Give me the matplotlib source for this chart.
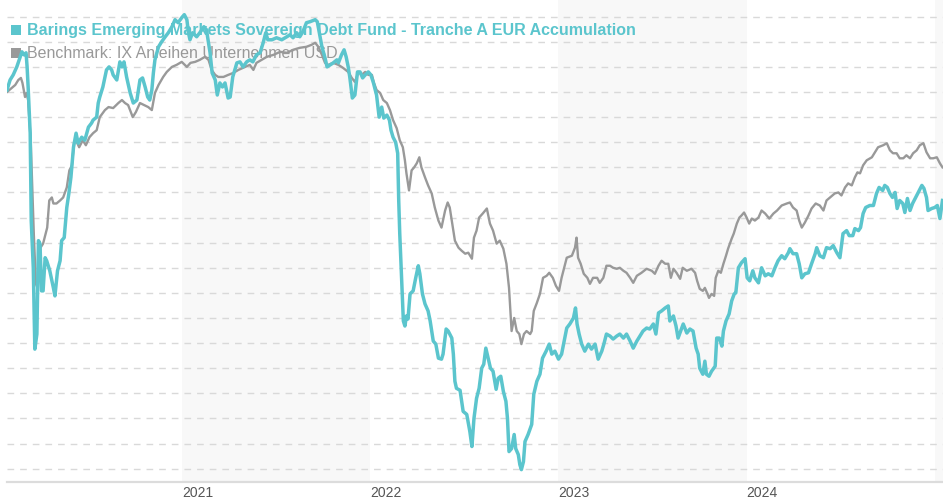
"""
Fund vs. benchmark cumulative performance (%), 2020-01 to 2025-01.
"""
import matplotlib
matplotlib.use('Agg')
import matplotlib.pyplot as plt
from matplotlib.patches import Rectangle
import numpy as np
import pandas as pd

START = pd.Timestamp('2020-01-27')

fund_name = 'Barings Emerging Markets Sovereign Debt Fund - Tranche A EUR Accumulation'
bench_name = 'Benchmark: IX Anleihen Unternehmen USD'
year_labels = ['2021', '2022', '2023', '2024']
shaded_years = [2021, 2023, 2025]

# days since START, cumulative performance in %
fund_days = [
	0, 6, 12, 19, 25, 29, 33, 37, 39, 41, 45, 47, 51, 54, 58, 61, 64, 67, 70, 74,
	77, 83, 90, 93, 98, 103, 106, 111, 116, 120, 124, 129, 134, 138, 145, 151, 158, 164, 167, 174,
	177, 180, 186, 193, 198, 203, 206, 213, 219, 223, 227, 232, 239, 245, 252, 258, 263, 268, 273, 277,
	281, 284, 287, 294, 300, 307, 313, 320, 326, 332, 339, 344, 349, 352, 355, 360, 368, 374, 382, 387,
	394, 398, 404, 408, 413, 418, 423, 429, 433, 438, 446, 452, 458, 465, 471, 477, 484, 491, 497, 502,
	506, 514, 523, 533, 543, 549, 555, 562, 568, 574, 581, 588, 598, 602, 606, 611, 617, 621, 627, 633,
	640, 643, 649, 654, 658, 662, 665, 670, 675, 680, 685, 690, 695, 701, 706, 711, 717, 722, 727, 731,
	737, 742, 745, 749, 754, 758, 760, 762, 766, 769, 772, 775, 778, 782, 788, 793, 798, 801, 806, 811,
	817, 821, 827, 832, 837, 843, 846, 852, 856, 863, 866, 869, 872, 879, 885, 892, 898, 902, 906, 911,
	916, 921, 925, 929, 934, 938, 943, 949, 953, 958, 963, 968, 971, 974, 979, 984, 987, 992, 995, 998,
	1002, 1005, 1011, 1018, 1022, 1028, 1034, 1039, 1046, 1052, 1057, 1063, 1070, 1076, 1081, 1086, 1092, 1099, 1103, 1106,
	1110, 1115, 1121, 1128, 1134, 1141, 1147, 1154, 1158, 1163, 1170, 1176, 1183, 1189, 1196, 1202, 1209, 1215, 1222, 1228,
	1234, 1241, 1247, 1254, 1259, 1264, 1270, 1277, 1283, 1286, 1293, 1298, 1302, 1307, 1312, 1319, 1325, 1331, 1337, 1341,
	1344, 1350, 1354, 1357, 1362, 1367, 1374, 1377, 1382, 1387, 1390, 1395, 1401, 1406, 1411, 1414, 1419, 1425, 1432, 1436,
	1441, 1447, 1451, 1458, 1464, 1471, 1477, 1484, 1490, 1496, 1503, 1509, 1516, 1519, 1525, 1532, 1537, 1542, 1548, 1555,
	1561, 1568, 1571, 1577, 1584, 1590, 1597, 1603, 1610, 1616, 1622, 1629, 1634, 1641, 1645, 1652, 1656, 1661, 1666, 1674,
	1681, 1687, 1692, 1699, 1703, 1708, 1713, 1718, 1723, 1727, 1732, 1738, 1742, 1747, 1752, 1757, 1762, 1768, 1775, 1779,
	1784, 1787, 1794, 1800, 1805, 1810, 1813, 1815,
]
fund_perf = [
	0.2, 1.2, 1.7, 2.5, 3.4, 4.0, 3.7, 3.9, 2.5, 0.5, -4.1, -12.8, -17.5, -25.6, -24.1, -14.8, -15.1, -19.8, -19.8, -16.5,
	-16.8, -17.8, -19.5, -20.3, -17.8, -16.8, -14.8, -14.5, -11.5, -10.1, -8.5, -5.5, -4.1, -5.1, -4.5, -4.8, -3.5, -3.1, -2.8, -2.5,
	-1.1, -0.5, 0.5, 2.2, 2.5, 2.2, 1.7, 1.2, 3.0, 2.5, 3.0, 1.5, -0.1, -1.1, -0.8, 1.2, 1.4, 0.5, -0.5, -0.8,
	0.2, 1.9, 3.2, 4.5, 5.0, 5.5, 5.9, 6.5, 7.2, 6.9, 7.4, 7.7, 7.2, 5.9, 5.2, 5.9, 5.5, 5.9, 6.5, 6.2,
	3.9, 1.9, 1.2, -0.3, 0.9, 0.5, 0.9, -0.6, -0.5, 1.5, 2.9, 3.0, 2.5, 3.0, 3.2, 3.0, 3.7, 3.9, 4.9, 5.9,
	5.2, 5.2, 5.4, 5.2, 5.5, 5.7, 5.4, 5.9, 5.5, 6.0, 6.9, 7.0, 7.2, 7.0, 5.9, 4.5, 3.4, 2.5, 2.7, 2.9,
	3.2, 2.9, 3.7, 4.2, 3.5, 2.5, 1.5, -0.6, -0.3, 2.0, 2.0, 1.4, 1.7, 2.0, 1.7, 0.9, -0.3, -2.5, -1.5, -2.6,
	-2.3, -2.8, -3.8, -4.5, -5.0, -6.1, -10.8, -14.1, -19.1, -22.8, -23.3, -22.3, -22.6, -20.1, -19.8, -18.5, -17.3, -18.1, -20.1, -21.1,
	-21.8, -22.8, -24.8, -25.1, -26.5, -26.6, -26.1, -23.6, -23.8, -24.5, -26.1, -28.8, -29.5, -29.7, -31.8, -32.1, -33.8, -35.3, -32.5, -30.5,
	-29.5, -27.5, -27.1, -25.5, -26.6, -27.5, -27.8, -29.6, -28.5, -28.3, -29.8, -30.8, -32.5, -35.8, -35.5, -34.1, -35.5, -36.1, -37.1, -37.6,
	-36.8, -34.8, -34.1, -33.1, -30.1, -28.8, -28.1, -26.5, -25.8, -25.1, -26.1, -25.8, -26.6, -26.1, -24.8, -23.5, -23.1, -22.5, -21.5, -23.1,
	-24.1, -25.1, -25.8, -25.1, -25.6, -25.1, -26.6, -25.8, -25.1, -24.1, -24.3, -24.6, -24.3, -24.1, -24.5, -24.1, -24.8, -25.5, -24.8, -24.3,
	-23.8, -23.5, -23.6, -23.1, -24.1, -22.0, -21.8, -21.5, -21.3, -22.8, -22.3, -23.3, -24.5, -23.8, -23.1, -24.0, -23.6, -23.8, -25.5, -26.1,
	-27.5, -28.1, -26.8, -28.1, -28.3, -27.8, -27.3, -24.5, -24.5, -25.3, -23.8, -22.8, -22.1, -20.8, -20.1, -20.0, -17.5, -17.0, -16.6, -18.5,
	-18.8, -17.8, -18.5, -19.0, -17.5, -18.3, -18.1, -18.3, -17.5, -16.8, -16.3, -16.6, -16.0, -15.6, -16.1, -16.1, -17.1, -18.5, -18.1, -18.0,
	-17.1, -16.1, -15.5, -16.3, -16.5, -15.5, -15.6, -15.3, -16.0, -16.5, -14.1, -13.8, -14.3, -14.3, -13.6, -13.8, -13.5, -12.1, -11.5, -11.3,
	-11.3, -10.1, -9.5, -9.8, -9.3, -9.5, -10.1, -10.5, -10.0, -11.6, -10.8, -11.1, -12.0, -10.6, -11.8, -11.1, -10.6, -10.0, -9.3, -9.6,
	-10.5, -11.8, -11.6, -11.5, -11.3, -12.6, -11.5, -10.8,
]

bench_days = [
	0, 9, 16, 22, 27, 30, 35, 38, 41, 46, 49, 52, 56, 59, 62, 65, 70, 75, 78, 82,
	87, 90, 96, 103, 109, 116, 121, 126, 130, 134, 140, 147, 153, 160, 167, 174, 180, 190, 197, 206,
	216, 223, 229, 235, 244, 250, 258, 266, 274, 281, 287, 294, 303, 310, 320, 329, 339, 349, 356, 365,
	374, 384, 391, 397, 404, 410, 420, 429, 439, 449, 462, 471, 478, 484, 494, 504, 517, 530, 543, 555,
	568, 581, 591, 598, 604, 611, 617, 623, 633, 643, 652, 662, 669, 675, 682, 688, 695, 701, 708, 712,
	717, 724, 730, 737, 743, 749, 756, 762, 768, 772, 775, 780, 785, 790, 795, 800, 804, 811, 817, 824,
	830, 837, 843, 850, 855, 859, 865, 869, 876, 882, 889, 895, 902, 906, 911, 916, 923, 931, 937, 943,
	950, 956, 963, 969, 974, 979, 984, 989, 994, 998, 1003, 1008, 1015, 1018, 1022, 1028, 1034, 1040, 1047, 1052,
	1059, 1065, 1071, 1076, 1081, 1086, 1096, 1102, 1105, 1108, 1113, 1119, 1126, 1131, 1137, 1145, 1150, 1157, 1163, 1170,
	1176, 1183, 1189, 1196, 1202, 1209, 1215, 1222, 1231, 1241, 1251, 1257, 1264, 1270, 1277, 1283, 1288, 1293, 1299, 1306,
	1311, 1319, 1328, 1335, 1339, 1344, 1350, 1354, 1359, 1362, 1367, 1372, 1375, 1380, 1385, 1390, 1395, 1399, 1406, 1410,
	1416, 1421, 1425, 1430, 1435, 1440, 1445, 1451, 1458, 1464, 1471, 1479, 1487, 1494, 1503, 1513, 1519, 1525, 1532, 1537,
	1542, 1548, 1555, 1561, 1569, 1577, 1584, 1590, 1597, 1606, 1613, 1619, 1626, 1632, 1639, 1645, 1650, 1655, 1661, 1668,
	1678, 1684, 1690, 1700, 1707, 1713, 1719, 1726, 1732, 1739, 1745, 1752, 1758, 1765, 1771, 1778, 1784, 1791, 1797, 1804,
	1810, 1815,
]
bench_perf = [
	0.0, 0.4, 0.7, 1.2, 1.4, 0.9, -0.5, -0.1, -0.8, -4.8, -9.5, -14.1, -19.1, -19.5, -18.1, -15.5, -15.1, -14.1, -13.5, -10.8,
	-10.5, -11.1, -11.1, -10.8, -10.5, -9.5, -7.8, -7.3, -5.1, -4.8, -5.5, -4.8, -5.3, -4.5, -4.1, -3.8, -2.5, -1.8, -1.5, -1.6,
	-1.1, -0.8, -1.1, -1.3, -2.5, -2.0, -1.1, -1.3, -1.5, -1.8, -0.1, 0.7, 1.5, 2.0, 2.5, 2.7, 3.0, 2.5, 2.9, 3.0,
	3.2, 3.5, 3.2, 2.2, 1.7, 1.5, 1.5, 1.7, 1.9, 2.2, 2.5, 2.7, 2.2, 2.9, 3.2, 3.5, 3.7, 4.0, 3.9, 4.2,
	4.4, 4.5, 4.7, 4.9, 4.5, 3.7, 2.9, 2.7, 2.9, 2.7, 2.4, 2.0, 1.4, 1.0, 2.0, 1.7, 2.0, 1.7, 1.7, 0.9,
	0.2, -0.1, -0.8, -1.1, -1.8, -2.8, -3.6, -4.8, -5.5, -6.8, -8.1, -9.8, -7.8, -7.5, -7.1, -6.5, -7.5, -8.5, -9.3, -10.1,
	-11.5, -12.8, -13.5, -11.8, -11.0, -11.5, -13.5, -14.8, -15.5, -15.8, -16.1, -16.0, -16.6, -14.5, -13.8, -12.5, -12.1, -11.6, -13.1, -13.8,
	-15.1, -14.8, -15.6, -17.1, -19.5, -23.8, -22.5, -23.8, -24.1, -25.1, -24.1, -23.8, -24.1, -23.8, -21.8, -21.0, -20.1, -18.5, -18.3, -18.0,
	-18.5, -19.3, -19.8, -18.5, -17.5, -16.5, -16.3, -15.5, -14.5, -16.5, -17.1, -18.1, -18.5, -19.1, -18.5, -18.5, -19.0, -18.5, -17.3, -17.3,
	-17.5, -17.6, -17.5, -17.8, -18.0, -18.5, -19.0, -18.3, -18.0, -17.6, -17.8, -18.1, -17.3, -16.8, -17.1, -17.1, -18.5, -17.6, -18.0, -18.6,
	-17.5, -17.8, -17.6, -18.0, -18.8, -19.6, -19.8, -19.5, -20.1, -20.5, -20.1, -20.3, -18.5, -17.8, -18.0, -17.1, -16.3, -15.6, -14.6, -14.1,
	-13.1, -12.5, -12.3, -12.0, -12.5, -13.1, -12.6, -12.8, -12.5, -11.8, -12.1, -12.6, -12.1, -11.8, -11.3, -11.1, -11.0, -11.5, -11.8, -12.8,
	-13.5, -13.0, -12.3, -11.6, -11.1, -11.3, -11.8, -10.8, -10.5, -10.1, -10.0, -10.3, -9.5, -9.1, -9.3, -8.5, -8.0, -8.1, -7.3, -6.8,
	-6.5, -6.0, -5.5, -5.3, -5.1, -5.8, -6.1, -6.1, -6.6, -6.6, -6.3, -6.6, -6.1, -5.8, -5.3, -5.1, -6.0, -6.6, -6.6, -6.5,
	-7.1, -7.5,
]

TEAL = '#5bc5cd'
GRAY = '#999999'

fund_dates = START + pd.to_timedelta(fund_days, unit='D')
bench_dates = START + pd.to_timedelta(bench_days, unit='D')

fig = plt.figure(figsize=(9.43, 5.0), dpi=100)
ax = fig.add_axes([7 / 943, 18 / 500, 936 / 943, 482 / 500])

# alternating year bands
for yr in shaded_years:
	ax.axvspan(pd.Timestamp(f'{yr}-01-01'), pd.Timestamp(f'{yr + 1}-01-01'),
		color='#f8f8f8', zorder=0, linewidth=0)

ax.set_xlim(START, START + pd.Timedelta(days=1816))
ax.set_ylim(-38.83, 9.16)
ax.set_yticks(np.arange(-37.5, 8.0, 2.5))
ax.set_yticklabels([])
ax.tick_params(axis='y', length=0)
ax.grid(axis='y', color='#d9d9d9', linewidth=1.0, linestyle=(0, (4.8, 4.3)), zorder=0.5)
ax.set_axisbelow(True)

ax.set_xticks([pd.Timestamp(f'{y}-01-01') for y in year_labels])
ax.set_xticklabels(year_labels, fontsize=10, color='#555555', family='Liberation Sans')
for lab in ax.get_xticklabels():
	lab.set_horizontalalignment('left')
ax.tick_params(axis='x', length=0, pad=3)

for side in ['top', 'left', 'right']:
	ax.spines[side].set_visible(False)
ax.spines['bottom'].set_color('#dcdcdc')
ax.spines['bottom'].set_linewidth(1.6)

# legend text sits under the lines (pixel positions -> axes fraction)
def px(x, y):
	return (x - 7) / 936, (482 - y) / 482

ax.add_patch(Rectangle(px(11, 35), 10 / 936, 10 / 482,
	transform=ax.transAxes, color=TEAL, zorder=1, linewidth=0))
ax.text(*px(27, 30), fund_name, transform=ax.transAxes,
	fontsize=11.5, fontweight='bold', color=TEAL, va='center', family='Liberation Sans', zorder=1)
ax.add_patch(Rectangle(px(11, 58), 10 / 936, 10 / 482,
	transform=ax.transAxes, color=GRAY, zorder=1, linewidth=0))
ax.text(*px(27, 53), bench_name, transform=ax.transAxes,
	fontsize=11.5, color=GRAY, va='center', family='Liberation Sans', zorder=1)

ax.plot(bench_dates, bench_perf, color=GRAY, linewidth=1.7, zorder=3, solid_joinstyle='round')
ax.plot(fund_dates, fund_perf, color=TEAL, linewidth=2.5, zorder=4, solid_joinstyle='round')

fig.savefig('out.png', dpi=100)
